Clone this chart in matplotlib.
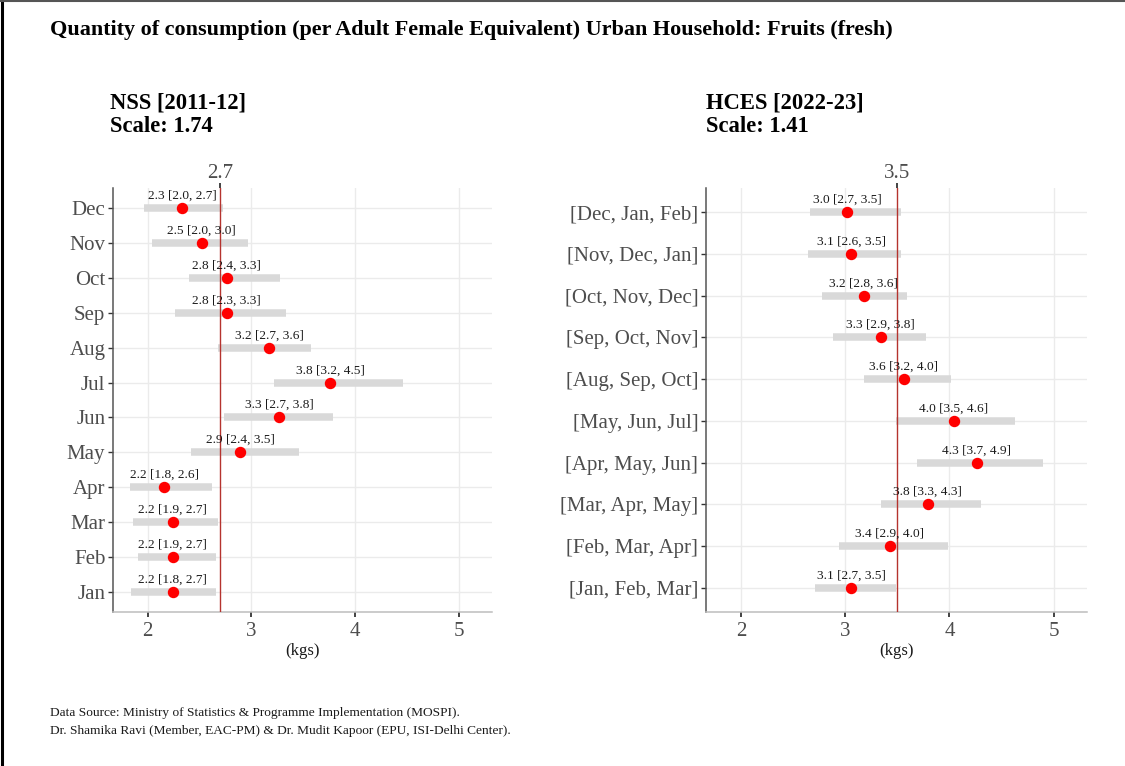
import matplotlib
matplotlib.use("Agg")
import matplotlib.pyplot as plt
from matplotlib.lines import Line2D

plt.rcParams['font.family'] = ['Liberation Serif', 'DejaVu Serif']

# ---------------- data ----------------
title = "Quantity of consumption (per Adult Female Equivalent) Urban Household: Fruits (fresh)"

nss_cats = ["Jan", "Feb", "Mar", "Apr", "May", "Jun", "Jul", "Aug", "Sep", "Oct", "Nov", "Dec"]
nss_mean = [2.24, 2.24, 2.24, 2.16, 2.89, 3.27, 3.76, 3.17, 2.76, 2.76, 2.52, 2.33]
nss_lo   = [1.84, 1.91, 1.86, 1.83, 2.42, 2.74, 3.22, 2.68, 2.26, 2.40, 2.04, 1.96]
nss_hi   = [2.66, 2.66, 2.68, 2.62, 3.46, 3.79, 4.46, 3.57, 3.33, 3.28, 2.97, 2.73]
nss_ref = 2.7
nss_title = "NSS [2011-12]\nScale: 1.74"

hces_cats = ["[Jan, Feb, Mar]", "[Feb, Mar, Apr]", "[Mar, Apr, May]", "[Apr, May, Jun]",
             "[May, Jun, Jul]", "[Aug, Sep, Oct]", "[Sep, Oct, Nov]", "[Oct, Nov, Dec]",
             "[Nov, Dec, Jan]", "[Dec, Jan, Feb]"]
hces_mean = [3.06, 3.43, 3.79, 4.26, 4.04, 3.56, 3.34, 3.18, 3.06, 3.02]
hces_lo   = [2.71, 2.94, 3.34, 3.69, 3.49, 3.18, 2.88, 2.78, 2.64, 2.66]
hces_hi   = [3.49, 3.99, 4.30, 4.90, 4.63, 4.02, 3.78, 3.59, 3.54, 3.54]
hces_ref = 3.5
hces_title = "HCES [2022-23]\nScale: 1.41"

x_ticks = [2, 3, 4, 5]
x_label = "(kgs)"
footer = ("Data Source: Ministry of Statistics & Programme Implementation (MOSPI).\n"
          "Dr. Shamika Ravi (Member, EAC-PM) & Dr. Mudit Kapoor (EPU, ISI-Delhi Center).")

# ---------------- figure ----------------
W, H = 1125, 766
fig = plt.figure(figsize=(W / 100, H / 100), dpi=100)

def px_axes(x0, y0, x1, y1):
    return [x0 / W, 1 - y1 / H, (x1 - x0) / W, (y1 - y0) / H]

tick_grey = "#4d4d4d"

def panel(rect, cats, mean, lo, hi, ref):
    ax = fig.add_axes(rect)
    y = list(range(len(cats)))
    ax.set_xlim(1.665, 5.32)
    ax.set_ylim(-0.58, len(cats) - 1 + 0.58)
    ax.set_axisbelow(True)
    ax.grid(True, color="#ebebeb", lw=1.0)
    ax.hlines(y, lo, hi, color="#d9d9d9", lw=5.4, zorder=2)
    ax.axvline(ref, color="#b5332e", lw=1.0, zorder=3)
    ax.plot(mean, y, 'o', color="#ff0000", ms=7.2, mec="#ff0000", zorder=4)
    for yi, m, l, h in zip(y, mean, lo, hi):
        ax.annotate(f"{m:.1f} [{l:.1f}, {h:.1f}]", (m, yi), xytext=(0, 4.5),
                    textcoords="offset points", ha="center", va="bottom",
                    fontsize=9.6, color="#1a1a1a", zorder=5)
    ax.set_yticks(y)
    ax.set_yticklabels(cats)
    ax.set_xticks(x_ticks)
    ax.tick_params(axis='y', labelsize=15, labelcolor=tick_grey, color="#333333",
                   length=3.5, width=1, pad=2)
    ax.tick_params(axis='x', labelsize=15, labelcolor=tick_grey, color="#222222",
                   length=3.5, width=1.2, pad=4)
    for s in ("top", "right"):
        ax.spines[s].set_visible(False)
    ax.spines["left"].set_color("#555555")
    ax.spines["left"].set_linewidth(1.1)
    ax.spines["bottom"].set_color("#bdbdbd")
    ax.spines["bottom"].set_linewidth(1.1)
    ax.set_xlabel(x_label, fontsize=12, color="#1a1a1a", labelpad=1)
    sec = ax.secondary_xaxis('top')
    sec.set_xticks([ref])
    sec.set_xticklabels([f"{ref:.1f}"])
    sec.tick_params(labelsize=15, labelcolor=tick_grey, color="#222222",
                    length=3.5, width=1.2, pad=0)
    sec.spines["top"].set_visible(False)
    return ax

ax1 = panel(px_axes(113, 188, 492, 612), nss_cats, nss_mean, nss_lo, nss_hi, nss_ref)
ax2 = panel(px_axes(706, 188, 1087, 612), hces_cats, hces_mean, hces_lo, hces_hi, hces_ref)

fig.text(50 / W, 1 - 30 / H, title, fontsize=15.9, fontweight="bold", ha="left", va="center")
fig.text(110 / W, 1 - 115 / H, nss_title, fontsize=16.3, fontweight="bold", ha="left",
         va="center", linespacing=1.15)
fig.text(706 / W, 1 - 115 / H, hces_title, fontsize=16.3, fontweight="bold", ha="left",
         va="center", linespacing=1.15)
fig.text(50 / W, 1 - 722 / H, footer, fontsize=9.6, ha="left", va="center",
         color="#1a1a1a", linespacing=1.6)

# frame lines of the original image
fig.add_artist(Line2D([1.5 / W, 1.5 / W], [0, 1], color="black", lw=2.2))
fig.add_artist(Line2D([0, 1], [1 - 0.8 / H, 1 - 0.8 / H], color="#555555", lw=1.5))

fig.savefig("out.png", dpi=100)
